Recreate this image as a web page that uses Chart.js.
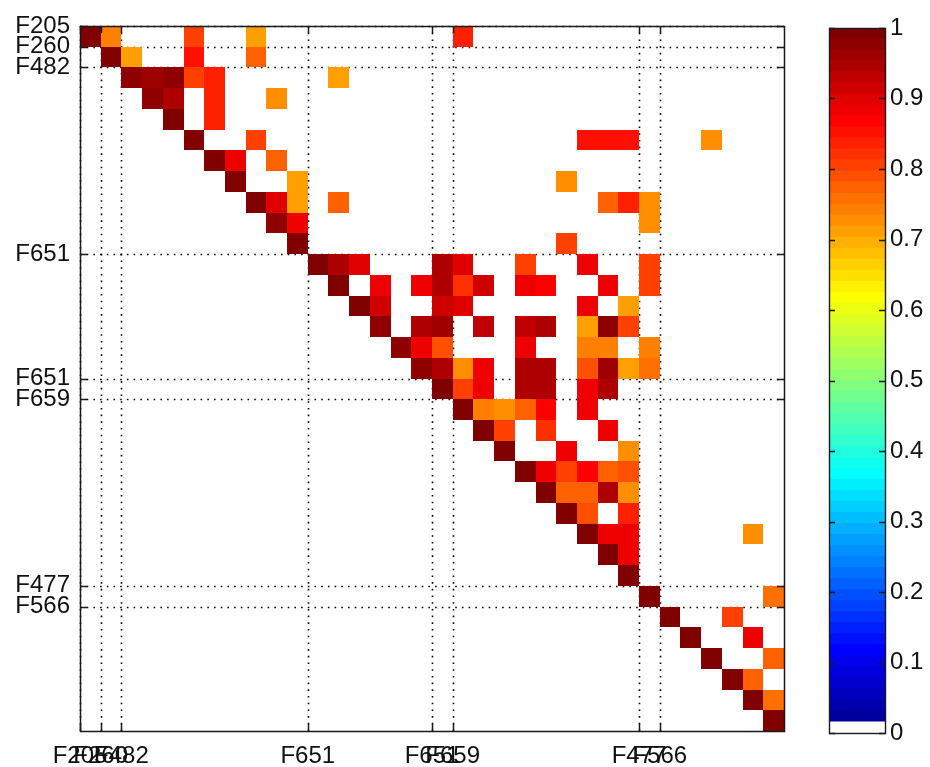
<!DOCTYPE html>
<html><head><meta charset="utf-8">
<script src="https://cdn.jsdelivr.net/npm/chart.js@4/dist/chart.umd.min.js"></script>
<style>
html,body{margin:0;padding:0;background:#fff;}
#wrap{position:relative;width:930px;height:767px;overflow:hidden;}
.box{position:absolute;top:0;height:767px;}
</style></head><body>
<div id="wrap">
  <div class="box" style="left:0;width:930px;"><canvas id="main"></canvas></div>
  <div class="box" style="left:790px;width:140px;"><canvas id="cb"></canvas></div>
</div>
<script>
// ---------- data ----------
const nCells = 34;
const tickLabels = ['F205','F260','F482','F651','F651','F659','F477','F566'];
const tickPositions = [0, 1, 2, 11, 17, 18, 27, 28];

const cellRow = [
  0,1,2,3,4,5,6,7,8,9,10,11,12,13,14,15,16,17,18,19,20,21,22,23,24,25,26,27,28,29,30,31,32,33,
  0,0,0,0,
  1,1,1,
  2,2,2,2,2,
  3,3,3,
  4,
  5,5,5,5,5,
  6,6,
  7,7,
  8,8,8,8,8,8,
  9,9,
  10,
  11,11,11,11,11,11,11,
  12,12,12,12,12,12,12,12,12,
  13,13,13,13,13,
  14,14,14,14,14,14,14,14,
  15,15,15,15,15,15,
  16,16,16,16,16,16,16,16,16,
  17,17,17,17,17,17,
  18,18,18,18,18,
  19,19,19,
  20,20,
  21,21,21,21,21,
  22,22,22,22,
  23,23,
  24,24,24,
  25,
  27,28,29,30,31,32
];
const cellCol = [
  0,1,2,3,4,5,6,7,8,9,10,11,12,13,14,15,16,17,18,19,20,21,22,23,24,25,26,27,28,29,30,31,32,33,
  1,5,8,18,
  2,5,8,
  3,4,5,6,12,
  4,6,9,
  6,
  8,24,25,26,30,
  7,9,
  10,23,
  9,10,12,25,26,27,
  10,27,
  23,
  12,13,17,18,21,24,27,
  14,16,17,18,19,21,22,25,27,
  14,17,18,24,26,
  16,17,19,21,22,24,25,26,
  16,17,21,24,25,27,
  17,18,19,21,22,24,25,26,27,
  18,19,21,22,24,25,
  19,20,21,22,24,
  20,22,25,
  23,26,
  22,23,24,25,26,
  23,24,25,26,
  24,26,
  25,26,32,
  26,
  33,31,32,33,32,33
];
const cellValue = [
  1,1,0.98,0.98,1,1,1,1,1,0.98,1,1,1,1,0.98,0.98,0.98,1,1,1,1,1,1,1,1,1,1,1,1,1,1,1,1,1,
  0.74,0.81,0.71,0.83,
  0.71,0.85,0.77,
  0.96,0.98,0.80,0.83,0.71,
  0.95,0.83,0.72,
  0.83,
  0.80,0.85,0.85,0.85,0.72,
  0.88,0.77,
  0.71,0.72,
  0.90,0.71,0.77,0.77,0.84,0.72,
  0.88,0.72,
  0.80,
  0.95,0.90,0.95,0.90,0.81,0.88,0.81,
  0.89,0.89,0.95,0.82,0.92,0.89,0.86,0.89,0.81,
  0.92,0.91,0.90,0.89,0.71,
  0.95,0.96,0.93,0.93,0.94,0.71,0.97,0.80,
  0.89,0.79,0.89,0.74,0.74,0.74,
  0.95,0.72,0.89,0.95,0.95,0.79,0.96,0.71,0.76,
  0.80,0.88,0.95,0.95,0.88,0.95,
  0.74,0.72,0.77,0.86,0.88,
  0.80,0.82,0.88,
  0.88,0.72,
  0.88,0.81,0.86,0.77,0.79,
  0.77,0.77,0.95,0.72,
  0.79,0.84,
  0.88,0.88,0.73,
  0.88,
  0.76,0.81,0.88,0.77,0.77,0.76
];
const colorbarTicks = [0,0.1,0.2,0.3,0.4,0.5,0.6,0.7,0.8,0.9,1];
const colorbarLabels = ['0','0.1','0.2','0.3','0.4','0.5','0.6','0.7','0.8','0.9','1'];
const nColors = 64;

// ---------- colour map (MATLAB jet(64), lowest entry white) ----------
function jetU(k){ if(k<1||k>47) return 0; if(k<=16) return k/16; if(k<=31) return 1; return (48-k)/16; }
function jetColor(i){ // 1-based
  if(i<=1) return 'rgb(255,255,255)';
  const r=Math.round(255*jetU(i-24)), g=Math.round(255*jetU(i-8)), b=Math.round(255*jetU(i+8));
  return `rgb(${r},${g},${b})`;
}
function valueColor(v){ return jetColor(Math.min(nColors, Math.floor(v*nColors)+1)); }

const FONT = {family:"'Liberation Sans', Arial, sans-serif", size:24};
const TXT = '#111';

// ---------- main heat map ----------
const cells = cellRow.map((r,i)=>({x: cellCol[i]+0.5, y: r+0.5, v: cellValue[i]}));

const heatPlugin = {
  id:'heat',
  beforeDatasetsDraw(chart){
    const {ctx, chartArea:a, scales:{x,y}} = chart;
    ctx.save();
    // dotted grid
    ctx.strokeStyle='#000'; ctx.lineWidth=1.6; ctx.setLineDash([1.6,5.1]);
    x.ticks.forEach(t=>{ const p=Math.round(x.getPixelForValue(t.value))+0.5;
      ctx.beginPath(); ctx.moveTo(p,a.top); ctx.lineTo(p,a.bottom); ctx.stroke(); });
    y.ticks.forEach(t=>{ const p=Math.round(y.getPixelForValue(t.value))+0.5;
      ctx.beginPath(); ctx.moveTo(a.left,p); ctx.lineTo(a.right,p); ctx.stroke(); });
    ctx.setLineDash([]);
    // cells
    chart.data.datasets[0].data.forEach(d=>{
      const x0=Math.round(x.getPixelForValue(d.x-0.5)), x1=Math.round(x.getPixelForValue(d.x+0.5));
      const y0=Math.round(y.getPixelForValue(d.y-0.5)), y1=Math.round(y.getPixelForValue(d.y+0.5));
      ctx.fillStyle=valueColor(d.v);
      ctx.fillRect(Math.min(x0,x1),Math.min(y0,y1),Math.abs(x1-x0),Math.abs(y1-y0));
    });
    ctx.restore();
  },
  afterDatasetsDraw(chart){
    const {ctx, chartArea:a, scales:{x,y}} = chart;
    ctx.save();
    ctx.strokeStyle='#1a1a1a'; ctx.lineWidth=1.5;
    ctx.strokeRect(a.left+0.5,a.top+0.5,a.right-a.left,a.bottom-a.top);
    const L=7;
    ctx.beginPath();
    x.ticks.forEach(t=>{ const p=Math.round(x.getPixelForValue(t.value))+0.5;
      ctx.moveTo(p,a.bottom); ctx.lineTo(p,a.bottom-L); ctx.moveTo(p,a.top); ctx.lineTo(p,a.top+L); });
    y.ticks.forEach(t=>{ const p=Math.round(y.getPixelForValue(t.value))+0.5;
      ctx.moveTo(a.left,p); ctx.lineTo(a.left+L,p); ctx.moveTo(a.right,p); ctx.lineTo(a.right-L,p); });
    ctx.stroke();
    ctx.restore();
  }
};

new Chart(document.getElementById('main'),{
  type:'scatter',
  data:{datasets:[{label:'similarity', data:cells, pointRadius:0, pointHoverRadius:0, showLine:false}]},
  options:{
    responsive:true, maintainAspectRatio:false, animation:false, devicePixelRatio:1,
    layout:{padding:{top:26,right:146,left:0,bottom:0}},
    plugins:{legend:{display:false}, tooltip:{enabled:false}},
    scales:{
      x:{type:'linear', min:0, max:nCells, position:'bottom',
        grid:{display:false, drawTicks:false}, border:{display:false},
        afterBuildTicks:s=>{ s.ticks = tickPositions.map(v=>({value:v})); },
        afterFit:s=>{ s.height=36; },
        ticks:{autoSkip:false, maxRotation:0, minRotation:0, padding:11, font:FONT, color:TXT,
          callback:(v,i)=>tickLabels[i]}
      },
      y:{type:'linear', min:0, max:nCells, reverse:true,
        grid:{display:false, drawTicks:false}, border:{display:false},
        afterBuildTicks:s=>{ s.ticks = tickPositions.map(v=>({value:v})); },
        afterFit:s=>{ s.width=80; },
        ticks:{autoSkip:false, padding:10, font:FONT, color:TXT,
          callback:(v,i)=>tickLabels[i]}
      }
    }
  },
  plugins:[heatPlugin]
});

// ---------- colour bar ----------
const cbDatasets = [];
for(let k=1;k<=nColors;k++){
  cbDatasets.push({data:[1/nColors], backgroundColor:jetColor(k), borderWidth:0,
    barPercentage:1, categoryPercentage:1, inflateAmount:0.6});
}
const cbFrame = {
  id:'cbframe',
  afterDatasetsDraw(chart){
    const {ctx, chartArea:a, scales:{y}} = chart;
    ctx.save();
    ctx.strokeStyle='#1a1a1a'; ctx.lineWidth=1.4;
    ctx.strokeRect(a.left+0.5,a.top+0.5,a.right-a.left,a.bottom-a.top);
    ctx.beginPath();
    y.ticks.forEach(t=>{ const p=Math.round(y.getPixelForValue(t.value))+0.5;
      ctx.moveTo(a.left,p); ctx.lineTo(a.left+6,p); ctx.moveTo(a.right,p); ctx.lineTo(a.right-6,p); });
    ctx.stroke();
    ctx.restore();
  }
};
new Chart(document.getElementById('cb'),{
  type:'bar',
  data:{labels:['c'], datasets:cbDatasets},
  options:{
    responsive:true, maintainAspectRatio:false, animation:false, devicePixelRatio:1,
    layout:{padding:{top:28,bottom:34,left:39,right:0}},
    plugins:{legend:{display:false}, tooltip:{enabled:false}},
    scales:{
      x:{stacked:true, display:false},
      y:{stacked:true, position:'right', min:0, max:1,
        grid:{display:false, drawTicks:false}, border:{display:false},
        afterBuildTicks:s=>{ s.ticks = colorbarTicks.map(v=>({value:v})); },
        afterFit:s=>{ s.width=45; },
        ticks:{autoSkip:false, padding:5, font:FONT, color:TXT, callback:(v,i)=>colorbarLabels[i]}
      }
    }
  },
  plugins:[cbFrame]
});
</script>
</body></html>
